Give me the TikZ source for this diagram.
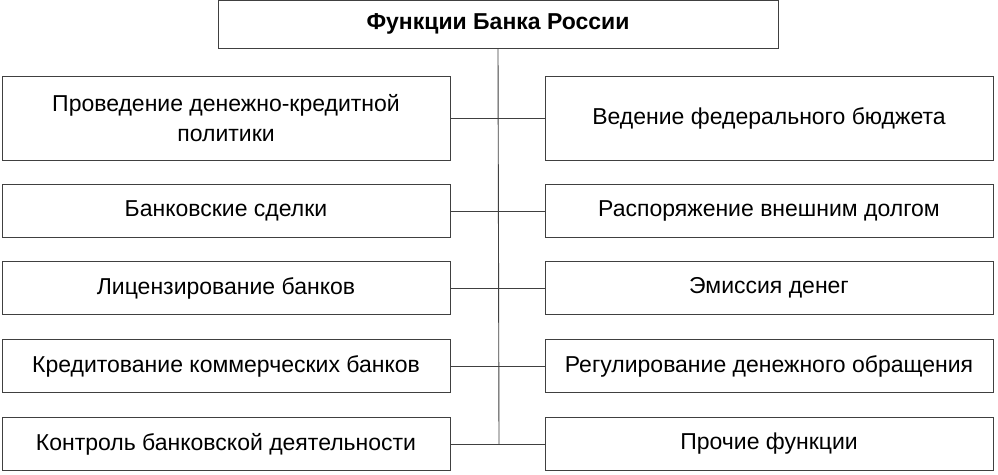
\documentclass[tikz,border=0pt]{standalone}
\usepackage{fontspec}
\setmainfont{Liberation Sans}
\begin{document}
\begin{tikzpicture}[x=1pt,y=-1pt,
  fbox/.style={draw=black!75,line width=0.9pt,fill=white,align=center,font=\fontsize{23}{30}\selectfont,inner sep=0pt},
  conn/.style={draw=black!75,line width=0.9pt}]
\useasboundingbox[fill=white] (0,0) rectangle (998,474);
\node[fbox,minimum width=560pt,minimum height=48pt,font=\bfseries\fontsize{23}{30}\selectfont] (top) at (498,24) {Функции Банка России};
\coordinate (bot) at (499,444);
\draw[conn] (top.south) -- (bot);
\foreach \i/\y/\h/\lt/\rt in {1/118/84/{Проведение денежно-кредитной\\политики}/{Ведение федерального бюджета},
  2/211/53/{Банковские сделки}/{Распоряжение внешним долгом},
  3/288/53/{Лицензирование банков}/{Эмиссия денег},
  4/366/53/{Кредитование коммерческих банков}/{Регулирование денежного обращения},
  5/444/53/{Контроль банковской деятельности}/{Прочие функции}}{
  \node[fbox,minimum width=448pt,minimum height=\h pt] (l\i) at (226,\y) {\lt};
  \node[fbox,minimum width=448pt,minimum height=\h pt] (r\i) at (769,\y) {\rt};
  \draw[conn] (l\i.east) -- (r\i.west);
}
\end{tikzpicture}
\end{document}
